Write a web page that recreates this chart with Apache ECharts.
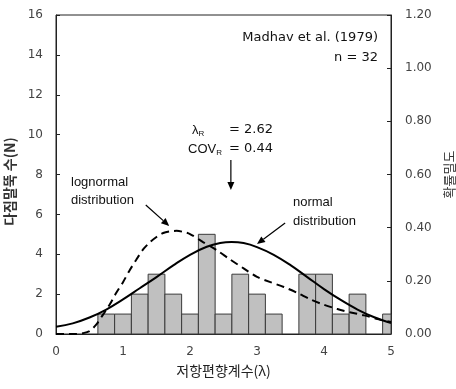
<!DOCTYPE html>
<html><head><meta charset="utf-8">
<script src="https://cdn.jsdelivr.net/npm/echarts@6.0.0/dist/echarts.min.js"></script>
<style>html,body{margin:0;padding:0;background:#fff}#c{width:456px;height:389px}</style>
</head><body><div id="c"></div>
<script>
// histogram: bin centres (λ) and pile counts
const binCenters = [0.75,1.0,1.25,1.5,1.75,2.0,2.25,2.5,2.75,3.0,3.25,3.5,3.75,4.0,4.25,4.5,4.75,5.0];
const counts     = [1,1,2,3,2,1,5,1,3,2,1,0,3,3,1,2,0,1];
// normal distribution curve
const normalX   = [0,0.25,0.5,0.75,1.0,1.25,1.5,1.75,2.0,2.25,2.45,2.62,2.8,3.0,3.25,3.5,3.75,4.0,4.25,4.5,4.75,5.0];
const normalPdf = [0.027,0.040,0.062,0.092,0.130,0.172,0.214,0.258,0.298,0.328,0.342,0.346,0.342,0.327,0.298,0.259,0.214,0.169,0.128,0.092,0.063,0.041];
// lognormal distribution curve
const lognormalX   = [0,0.3,0.4,0.5,0.6,0.7,0.8,0.9,1.0,1.1,1.2,1.3,1.4,1.5,1.6,1.7,1.8,1.9,2.0,2.2,2.4,2.6,2.8,3.0,3.2,3.4,3.6,3.8,4.0,4.2,4.4,4.6,4.8,5.0];
const lognormalPdf = [0,0,0.003,0.011,0.035,0.072,0.110,0.155,0.195,0.240,0.280,0.318,0.345,0.365,0.380,0.386,0.388,0.384,0.376,0.345,0.315,0.280,0.247,0.215,0.195,0.177,0.155,0.130,0.110,0.094,0.081,0.070,0.056,0.045];
// axes
const xRange = [0,5], xStep = 1;
const countRange = [0,16], countStep = 2;
const pdfRange = [0,1.2], pdfStep = 0.2;
const binWidth = 0.25;

const FONT = 'Liberation Sans, Arial, sans-serif';
const NFONT = '"DejaVu Sans", sans-serif';
const KFONT = '"Noto Sans CJK KR", sans-serif';
const chart = echarts.init(document.getElementById('c'), null, {renderer:'canvas'});
const grid = {left:56, right:65, top:15, bottom:55};

const axisCommon = {
  axisLine:{show:true, lineStyle:{color:'#222', width:1}},
  axisTick:{show:true, inside:true, length:4, lineStyle:{color:'#222'}},
  splitLine:{show:false},
  axisLabel:{color:'#444', fontFamily:NFONT, fontSize:12}
};

function renderBar(params, api){
  const c = api.value(0), v = api.value(1);
  const p1 = api.coord([c - binWidth/2, v]);
  const p2 = api.coord([c + binWidth/2, 0]);
  const rect = echarts.graphic.clipRectByRect(
    {x:p1[0], y:p1[1], width:p2[0]-p1[0], height:p2[1]-p1[1]},
    {x:params.coordSys.x, y:params.coordSys.y, width:params.coordSys.width, height:params.coordSys.height});
  if(!rect) return null;
  return {type:'rect', shape:rect, style:{fill:'#c0c0c0', stroke:'#3a3a3a', lineWidth:1}};
}

chart.setOption({
  animation:false,
  grid:Object.assign({show:true, borderColor:'#222', borderWidth:1, backgroundColor:'transparent', containLabel:false, outerBoundsMode:'none'}, grid),
  xAxis:Object.assign({}, axisCommon, {
    type:'value', min:xRange[0], max:xRange[1], interval:xStep,
    axisLabel:Object.assign({}, axisCommon.axisLabel, {margin:12}),
    name:'저항편향계수(λ)', nameLocation:'middle', nameGap:30,
    nameTextStyle:{fontFamily:KFONT, fontSize:14, color:'#222'}
  }),
  yAxis:[
    Object.assign({}, axisCommon, {
      type:'value', min:countRange[0], max:countRange[1], interval:countStep,
      axisLabel:Object.assign({}, axisCommon.axisLabel, {margin:13}),
      name:'다짐말뚝 수(N)', nameLocation:'middle', nameGap:34,
      nameTextStyle:{fontFamily:KFONT, fontSize:14, fontWeight:'bold', color:'#333', padding:[0,0,0,-14]}
    }),
    Object.assign({}, axisCommon, {
      type:'value', position:'right', min:pdfRange[0], max:pdfRange[1], interval:pdfStep,
      axisLabel:Object.assign({}, axisCommon.axisLabel, {margin:14, formatter:v=>v.toFixed(2)}),
      name:'확률밀도', nameLocation:'middle', nameGap:47, nameRotate:90,
      nameTextStyle:{fontFamily:KFONT, fontSize:13, color:'#333'}
    })
  ],
  series:[
    {type:'custom', yAxisIndex:0, renderItem:renderBar, encode:{x:0, y:1},
     data:binCenters.map((x,i)=>[x,counts[i]]).filter(d=>d[1]>0)},
    {type:'line', yAxisIndex:1, smooth:0.3, showSymbol:false, symbol:'none',
     lineStyle:{color:'#000', width:2, type:[8,5]},
     data:lognormalX.map((x,i)=>[x,lognormalPdf[i]])},
    {type:'line', yAxisIndex:1, smooth:0.4, showSymbol:false, symbol:'none',
     lineStyle:{color:'#000', width:2},
     data:normalX.map((x,i)=>[x,normalPdf[i]])}
  ]
});

// annotations positioned in data coordinates (λ, count)
function P(x,y){return chart.convertToPixel({xAxisIndex:0, yAxisIndex:0},[x,y]);}
function arrow(from,to){
  const a=P(from[0],from[1]), b=P(to[0],to[1]);
  const ang=Math.atan2(b[1]-a[1], b[0]-a[0]);
  const L=8, W=3.5;
  const bx=b[0]-L*Math.cos(ang), by=b[1]-L*Math.sin(ang);
  const px=-Math.sin(ang)*W, py=Math.cos(ang)*W;
  return [
    {type:'line', shape:{x1:a[0],y1:a[1],x2:bx,y2:by}, style:{stroke:'#000', lineWidth:1.2}},
    {type:'polygon', shape:{points:[[b[0],b[1]],[bx+px,by+py],[bx-px,by-py]]}, style:{fill:'#000'}}
  ];
}
const txt = (x,y,text,align,rich,font)=>({type:'text', x:x, y:y, style:{text:text, x:0, y:0, align:align||'left', verticalAlign:'middle', fill:'#111', font:'13px '+(font||FONT), rich:rich}});
const subRich = {s:{fontSize:8, fontFamily:FONT, fill:'#111', padding:[7,0,0,0]}, n:{fontSize:13, fontFamily:FONT, fill:'#111'}};
const g = [];
g.push(txt(378,38,'Madhav et al. (1979)','right',null,NFONT));
g.push(txt(378,58,'n = 32','right',null,NFONT));
g.push(txt(192,130,'{n|λ}{s|R}','left',subRich));
g.push(txt(273,130,'= 2.62','right',null,NFONT));
g.push(txt(188,149,'{n|COV}{s|R}','left',subRich));
g.push(txt(273,149,'= 0.44','right',null,NFONT));
g.push(txt(71,182,'lognormal','left'));
g.push(txt(71,200,'distribution','left'));
g.push(txt(293,202,'normal','left'));
g.push(txt(293,221,'distribution','left'));
g.push(...arrow([2.61,8.73],[2.61,7.22]));
g.push(...arrow([1.34,6.47],[1.69,5.42]));
g.push(...arrow([3.42,5.57],[3.0,4.51]));
chart.setOption({graphic:g});
</script>
</body></html>
